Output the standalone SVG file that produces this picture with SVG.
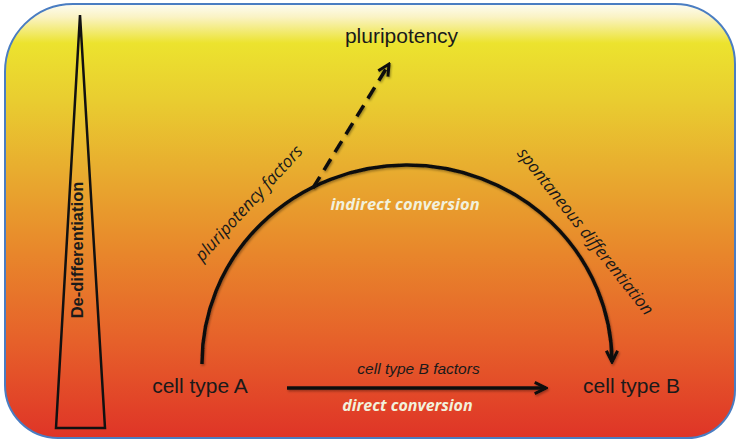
<svg xmlns="http://www.w3.org/2000/svg" width="736" height="441" viewBox="0 0 736 441">
  <defs>
    <linearGradient id="bg" gradientUnits="userSpaceOnUse" x1="0" y1="4" x2="0" y2="438">
      <stop offset="0" stop-color="#fdfcf2"/>
      <stop offset="0.03" stop-color="#faf3c4"/>
      <stop offset="0.09" stop-color="#ece32e"/>
      <stop offset="0.22" stop-color="#e9cd30"/>
      <stop offset="0.38" stop-color="#e8ad2f"/>
      <stop offset="0.57" stop-color="#e8872b"/>
      <stop offset="0.78" stop-color="#e6602a"/>
      <stop offset="1" stop-color="#df3427"/>
    </linearGradient>
    <filter id="sh" filterUnits="userSpaceOnUse" x="0" y="0" width="736" height="441">
      <feDropShadow dx="1" dy="1.5" stdDeviation="1" flood-color="#000" flood-opacity="0.35"/>
    </filter>
    <marker id="arr" viewBox="0 0 12 12" refX="10.5" refY="6" markerWidth="15" markerHeight="15" orient="auto" markerUnits="userSpaceOnUse">
      <path d="M1.5,1.5 L10.5,6 L1.5,10.5" fill="none" stroke="#111" stroke-width="2.4" stroke-dasharray="none" stroke-linejoin="miter"/>
    </marker>
    <style>
      .lbl { font-family: "Liberation Sans", Arial, sans-serif; fill: #1a1a1a; }
      .it { font-family: "Open Sans", "Liberation Sans", sans-serif; font-style: italic; fill: #1a1a1a; }
      .wh { font-family: "Open Sans", "Liberation Sans", sans-serif; font-style: italic; font-weight: bold; fill: #f2f1dc; }
      .conn { fill: none; stroke: #111; stroke-width: 3.5; }
    </style>
  </defs>

  <g id="background">
    <path d="M73 4 H675 A60 60 0 0 1 735 64 V390 A48 48 0 0 1 687 438 H58 A53 53 0 0 1 5 385 V72 A68 68 0 0 1 73 4 Z" fill="url(#bg)" stroke="#4a7dc2" stroke-width="2"/>
  </g>

  <g id="de-differentiation">
    <polygon points="80,15 105,428 56,428" fill="none" stroke="#111" stroke-width="2.5" stroke-linejoin="miter"/>
    <text class="lbl" transform="translate(83,250) rotate(-90)" text-anchor="middle" font-size="16.5" font-weight="bold">De-differentiation</text>
  </g>

  <g id="pluripotency">
    <text class="lbl" x="401.5" y="43" text-anchor="middle" font-size="21">pluripotency</text>
  </g>

  <g id="cell-type-a">
    <text class="lbl" x="200" y="393" text-anchor="middle" font-size="21">cell type A</text>
  </g>

  <g id="cell-type-b">
    <text class="lbl" x="631.5" y="393" text-anchor="middle" font-size="21">cell type B</text>
  </g>

  <g id="connectors">
    <path class="conn" filter="url(#sh)" d="M202 364 A205 198 0 0 1 612 362" marker-end="url(#arr)"/>
    <path class="conn" filter="url(#sh)" d="M313 188 L389 64" stroke-dasharray="13 8" marker-end="url(#arr)"/>
    <path class="conn" filter="url(#sh)" d="M287 388 L546 388" marker-end="url(#arr)"/>
    <text class="it" transform="translate(253,207) rotate(-47.5)" text-anchor="middle" font-size="17">pluripotency factors</text>
    <text class="it" transform="translate(581,235) rotate(51.6)" text-anchor="middle" font-size="17">spontaneous differentiation</text>
    <text class="wh" x="405" y="210" text-anchor="middle" font-size="16.5">indirect conversion</text>
    <text class="lbl" x="418.5" y="374" text-anchor="middle" font-size="15.5" font-style="italic">cell type B factors</text>
    <text class="wh" x="407.5" y="411" text-anchor="middle" font-size="16">direct conversion</text>
  </g>
</svg>
